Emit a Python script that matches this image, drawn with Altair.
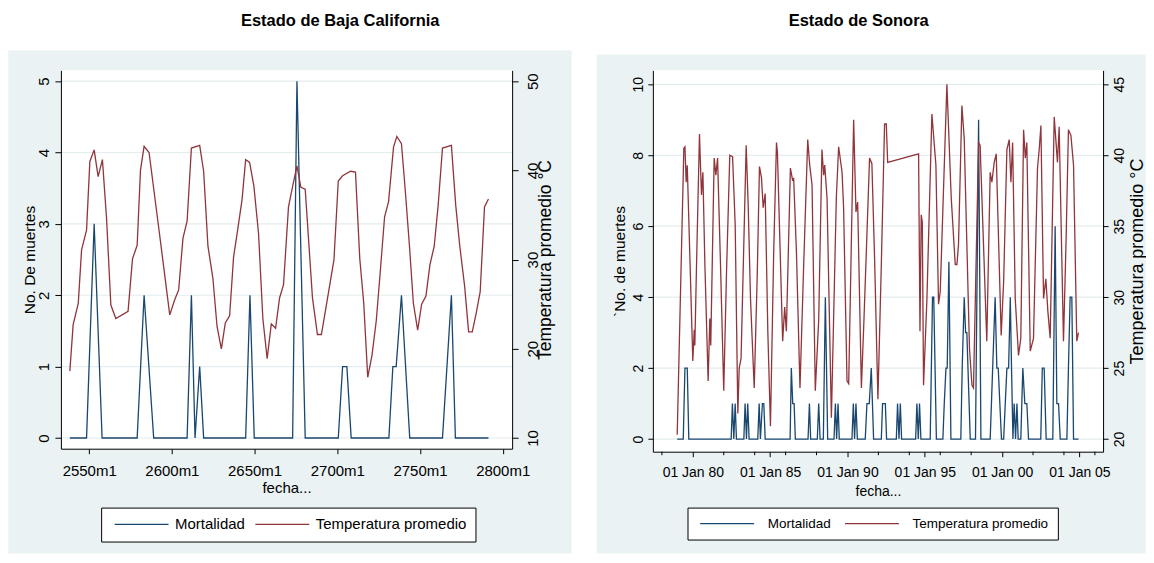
import altair as alt
import pandas as pd

# ---------------- data ----------------
SERIES = ["Mortalidad", "Temperatura promedio"]
TITLES = ["Estado de Baja California", "Estado de Sonora"]

# Baja California: x in Stata monthly units (labels "2550m1" ...)
BC_TEMP_X = [2538.3, 2540.3, 2543.4, 2545.4, 2548.4, 2550.4, 2553.0, 2555.4, 2558.0, 2560.5,
             2563.1, 2566.1, 2573.5, 2576.2, 2579.0, 2581.0, 2583.2, 2586.2, 2592.5, 2598.7,
             2601.7, 2604.1, 2606.7, 2609.2, 2611.8, 2616.8, 2619.2, 2621.8, 2624.8, 2627.3,
             2629.9, 2632.3, 2634.9, 2637.3, 2639.9, 2642.4, 2644.6, 2647.0, 2649.6, 2652.4,
             2655.0, 2657.6, 2660.1, 2662.7, 2665.1, 2667.5, 2670.5, 2673.0, 2675.6, 2678.0,
             2680.6, 2685.0, 2688.0, 2690.4, 2693.4, 2698.0, 2700.6, 2703.2, 2708.0, 2711.0,
             2713.6, 2716.0, 2718.4, 2721.0, 2723.6, 2726.0, 2728.6, 2731.0, 2734.0, 2736.0,
             2738.8, 2741.0, 2743.6, 2746.0, 2748.6, 2751.0, 2753.6, 2756.0, 2758.6, 2761.0,
             2763.6, 2769.0, 2771.6, 2774.0, 2777.0, 2779.4, 2781.6, 2784.0, 2786.4, 2789.0,
             2791.4]
BC_TEMP = [17.5, 22.7, 25.1, 31.1, 33.3, 41.0, 42.3, 39.3, 41.2, 34.6,
           24.9, 23.4, 24.2, 30.1, 31.6, 40.0, 42.7, 42.0, 32.9, 23.8,
           25.5, 26.6, 32.4, 34.3, 42.5, 42.8, 39.9, 31.5, 27.9, 22.5,
           20.0, 22.9, 23.7, 30.3, 33.5, 36.7, 41.2, 40.9, 38.2, 32.9,
           23.4, 18.9, 22.8, 22.3, 25.7, 27.2, 35.9, 38.2, 40.5, 38.1,
           37.9, 25.7, 21.6, 21.6, 24.9, 30.0, 38.8, 39.4, 39.9, 39.8,
           30.1, 25.1, 16.8, 19.3, 23.2, 28.7, 34.8, 36.5, 42.6, 43.8,
           43.0, 38.0, 31.6, 25.1, 22.1, 25.0, 25.9, 29.4, 31.5, 36.1,
           42.5, 42.8, 36.1, 31.6, 27.0, 21.9, 21.9, 24.0, 26.4, 35.9,
           36.8]
BC_MORT_X = [2538.3, 2548.4, 2553.0, 2557.8, 2579.0, 2583.2, 2589.0, 2609.2, 2611.8, 2614.0,
             2616.8, 2619.2, 2644.6, 2647.2, 2649.8, 2673.0, 2675.6, 2680.6, 2700.6, 2703.2,
             2705.8, 2708.4, 2731.2, 2733.6, 2735.6, 2738.8, 2743.8, 2763.6, 2769.0, 2771.4,
             2791.4]
BC_MORT = [0, 0, 3, 0, 0, 2, 0, 0, 2, 0,
           1, 0, 0, 2, 0, 0, 5, 0, 0, 1,
           1, 0, 0, 1, 1, 2, 0, 0, 2, 0,
           0]

# Sonora: x in decimal years
SON_TEMP_X = [1978.99, 1979.42, 1979.49, 1979.57, 1979.64, 1980.00, 1980.09, 1980.13, 1980.24, 1980.43,
              1980.56, 1980.65, 1980.78, 1980.99, 1981.10, 1981.16, 1981.38, 1981.49, 1981.60, 1981.79,
              1982.00, 1982.18, 1982.39, 1982.57, 1982.74, 1982.91, 1983.00, 1983.12, 1983.45, 1983.58,
              1983.73, 1983.97, 1984.16, 1984.31, 1984.44, 1984.55, 1984.68, 1984.85, 1985.02, 1985.23,
              1985.41, 1985.47, 1985.81, 1985.94, 1986.05, 1986.31, 1986.46, 1986.52, 1986.70, 1986.93,
              1987.17, 1987.43, 1987.56, 1987.71, 1987.92, 1988.14, 1988.35, 1988.46, 1988.53, 1988.68,
              1988.96, 1989.28, 1989.43, 1989.65, 1989.75, 1989.97, 1990.08, 1990.40, 1990.55, 1990.66,
              1990.90, 1991.07, 1991.43, 1991.58, 1991.76, 1991.97, 1992.19, 1992.40, 1992.51, 1992.60,
              1994.60, 1994.69, 1994.77, 1994.84, 1994.92, 1995.14, 1995.46, 1995.72, 1995.89, 1996.00,
              1996.43, 1996.71, 1996.97, 1997.08, 1997.18, 1997.40, 1997.55, 1997.89, 1998.05, 1998.15,
              1998.48, 1998.58, 1999.01, 1999.23, 1999.34, 1999.49, 1999.62, 1999.94, 2000.10, 2000.31,
              2000.46, 2000.57, 2000.68, 2000.85, 2001.06, 2001.21, 2001.39, 2001.50, 2001.60, 2001.82,
              2002.03, 2002.29, 2002.40, 2002.51, 2002.68, 2002.83, 2002.96, 2003.11, 2003.37, 2003.58,
              2003.69, 2003.97, 2004.14, 2004.29, 2004.45, 2004.62, 2004.83, 2004.94]
SON_TEMP = [20.3, 40.5, 40.6, 38.1, 39.3, 25.5, 27.7, 26.6, 32.3, 41.5,
            37.2, 38.8, 32.3, 24.1, 28.5, 26.6, 39.8, 38.6, 39.8, 32.3,
            23.4, 31.8, 40.0, 39.9, 35.1, 21.8, 25.0, 25.7, 40.7, 36.5,
            29.9, 23.6, 31.3, 39.2, 38.4, 36.3, 37.3, 27.6, 20.9, 33.2,
            40.9, 40.2, 26.9, 29.3, 27.6, 39.1, 38.2, 38.4, 33.2, 23.6,
            32.3, 41.1, 39.3, 37.9, 23.4, 28.4, 40.4, 38.6, 39.3, 37.0,
            21.5, 37.0, 40.6, 38.8, 36.3, 24.1, 23.9, 42.5, 36.0, 36.7,
            23.6, 28.5, 39.8, 39.4, 32.5, 22.8, 32.3, 42.2, 42.2, 39.5,
            40.1, 27.6, 35.8, 35.3, 23.8, 29.9, 42.9, 39.3, 29.5, 30.4,
            45.0, 37.0, 32.3, 32.3, 33.7, 43.5, 41.2, 26.4, 23.8, 23.6,
            40.9, 40.7, 26.9, 38.8, 38.1, 39.5, 40.1, 27.3, 31.1, 40.4,
            41.1, 38.1, 40.9, 29.9, 25.9, 27.1, 41.8, 39.8, 40.9, 26.2,
            27.1, 39.1, 40.4, 42.1, 29.9, 31.3, 29.0, 27.1, 42.7, 39.5,
            42.0, 26.9, 34.1, 41.8, 41.4, 39.3, 26.9, 27.5]
SON_MORT_X = [1978.99, 1979.38, 1979.49, 1979.64, 1979.74, 1982.48, 1982.56, 1982.65, 1982.74, 1982.82,
              1983.30, 1983.38, 1983.47, 1983.55, 1983.64, 1984.20, 1984.29, 1984.37, 1984.50, 1984.59,
              1984.68, 1986.29, 1986.37, 1986.46, 1986.55, 1986.63, 1987.45, 1987.54, 1987.62, 1988.05,
              1988.14, 1988.23, 1988.44, 1988.57, 1988.72, 1989.13, 1989.22, 1989.30, 1989.39, 1989.47,
              1990.29, 1990.38, 1990.46, 1990.55, 1990.64, 1991.15, 1991.26, 1991.41, 1991.54, 1991.69,
              1992.19, 1992.27, 1992.45, 1992.53, 1993.16, 1993.24, 1993.33, 1993.42, 1993.50, 1994.41,
              1994.49, 1994.58, 1994.66, 1994.75, 1995.35, 1995.50, 1995.58, 1995.75, 1996.17, 1996.26,
              1996.37, 1996.45, 1996.56, 1996.69, 1997.33, 1997.42, 1997.55, 1997.64, 1997.72, 1997.94,
              1998.28, 1998.48, 1998.63, 1999.23, 1999.55, 1999.66, 1999.75, 1999.96, 2000.10, 2000.31,
              2000.42, 2000.53, 2000.61, 2000.70, 2000.78, 2000.87, 2000.96, 2001.04, 2001.21, 2001.34,
              2001.47, 2001.60, 2001.71, 2002.50, 2002.60, 2002.72, 2002.85, 2003.28, 2003.43, 2003.54,
              2003.65, 2003.76, 2004.19, 2004.29, 2004.40, 2004.51, 2004.62, 2004.94]
SON_MORT = [0, 0, 2, 2, 0, 0, 1, 0, 1, 0,
            0, 1, 0, 1, 0, 0, 1, 0, 1, 1,
            0, 0, 2, 1, 1, 0, 0, 1, 0, 0,
            1, 0, 0, 4, 0, 0, 1, 0, 1, 0,
            0, 1, 0, 1, 0, 0, 1, 1, 2, 0,
            0, 1, 1, 0, 0, 1, 0, 1, 0, 0,
            1, 0, 1, 0, 0, 4, 4, 0, 0, 1,
            2, 2, 5, 0, 0, 2, 4, 3, 3, 0,
            0, 9, 0, 0, 4, 2, 2, 0, 0, 2,
            2, 4, 2, 0, 1, 0, 1, 0, 0, 2,
            1, 1, 0, 0, 2, 2, 0, 0, 6, 1,
            1, 0, 0, 2, 4, 4, 0, 0]

# axis ticks
BC_X_TICKS = [2550, 2600, 2650, 2700, 2750, 2800]
BC_MORT_TICKS = [0, 1, 2, 3, 4, 5]
BC_TEMP_TICKS = [10, 20, 30, 40, 50]
SON_X_TICKS = [1980, 1985, 1990, 1995, 2000, 2005]
SON_X_MINOR = [1978, 1982, 1984, 1986, 1988, 1992, 1994, 1996, 1998, 2002, 2004, 2006]
SON_MORT_TICKS = [0, 2, 4, 6, 8, 10]
SON_TEMP_TICKS = [20, 25, 30, 35, 40, 45]

# ---------------- style ----------------
FONT = "Liberation Sans"
BLUE = "#1a476f"
RED = "#90353b"
PANEL_BG = "#eaf2f3"
GRID = "#e3ecee"
# long horizontal legend key drawn as a custom path (scaled by sqrt(size)/2)
LEGEND_KEY = "M-1,0H17"


def panel(g):
    W, H = g["W"], g["H"]
    one = pd.DataFrame({"t": [g["title"]]})
    bg = alt.Chart(one).mark_rect(color=PANEL_BG).encode(
        x=alt.value(g["bg"][0]), x2=alt.value(g["bg"][1]),
        y=alt.value(g["bg"][2]), y2=alt.value(g["bg"][3]))
    plot_bg = alt.Chart(one).mark_rect(color="white").encode(
        x=alt.value(0), x2=alt.value(W), y=alt.value(0), y2=alt.value(H))
    ttl = alt.Chart(one).mark_text(font=FONT, fontSize=16.5, fontWeight="bold", color="black",
                                   align="center", baseline="middle").encode(
        text="t:N", x=alt.value(g["tx"]), y=alt.value(g["ty"]))

    xscale = alt.Scale(domain=g["xdom"], nice=False, zero=False)
    xaxis = alt.Axis(values=g["xticks"], labelExpr=g["xexpr"], title="fecha...",
                     tickSize=5, labelPadding=g["xlp"], labelFontSize=g["fs"],
                     titleFontSize=g["fs"], titleX=W / 2, titleY=44, titleAlign="center",
                     titleBaseline="alphabetic", zindex=1)
    X = alt.X("x:Q", scale=xscale, axis=xaxis)

    mscale = alt.Scale(domain=g["mdom"], nice=False, zero=False)
    tscale = alt.Scale(domain=g["tdom"], nice=False, zero=False)
    maxis = alt.Axis(values=g["mticks"], orient="left", title=g["mtitle"], labelAngle=270,
                     labelAlign="center", labelBaseline="bottom", labelPadding=g["mlp"],
                     tickSize=g["ts"], labelFontSize=g["fs"], titleFontSize=g["mtfs"],
                     titleAngle=270, titleAlign="center", titleBaseline="middle",
                     titleX=g["mtx"], titleY=H / 2, zindex=1)
    taxis = alt.Axis(values=g["tticks"], orient="right", title="Temperatura promedio °C",
                     labelAngle=270, labelAlign="center", labelBaseline="top",
                     labelPadding=g["tlp"], tickSize=g["ts"], labelFontSize=g["fs"],
                     titleFontSize=g["ttfs"], titleAngle=270, titleAlign="center",
                     titleBaseline="middle", titleX=g["ttx"], titleY=H / 2, zindex=1)

    grid = alt.Chart(pd.DataFrame({"g": g["mticks"]})).mark_rule(
        color=GRID, strokeWidth=1.2).encode(
        y=alt.Y("g:Q", scale=mscale, axis=None), x=alt.value(0), x2=alt.value(W))

    cscale = alt.Scale(domain=SERIES, range=[BLUE, RED])
    legend = alt.Legend(orient="none", legendX=g["lx"], legendY=g["ly"], direction="horizontal",
                        title=None, symbolType=LEGEND_KEY, symbolSize=36,
                        symbolStrokeWidth=1.3, labelFont=FONT, labelFontSize=g["lfs"],
                        labelColor="black", labelOffset=g["lo"], columnPadding=g["cp"],
                        padding=9, fillColor="white", strokeColor="black", labelLimit=400,
                        cornerRadius=0)
    mdf = pd.DataFrame({"x": g["mx"], "v": g["m"], "s": SERIES[0]})
    tdf = pd.DataFrame({"x": g["tx_"], "v": g["t"], "s": SERIES[1]})
    mline = alt.Chart(mdf).mark_line(strokeWidth=1.3).encode(
        x=X, y=alt.Y("v:Q", scale=mscale, axis=maxis),
        color=alt.Color("s:N", scale=cscale, legend=legend))
    tline = alt.Chart(tdf).mark_line(strokeWidth=1.3).encode(
        x=X, y=alt.Y("v:Q", scale=tscale, axis=taxis),
        color=alt.Color("s:N", scale=cscale, legend=legend))

    layers = [bg, plot_bg, ttl, grid]
    if g.get("minor"):
        minor = alt.Chart(pd.DataFrame({"x": g["minor"]})).mark_rule(color="black").encode(
            x=X, y=alt.value(H), y2=alt.value(H + 3.5))
        layers.append(minor)
    layers += [mline, tline]
    return alt.layer(*layers).resolve_scale(y="independent").properties(width=W, height=H)


left = panel(dict(
    title=TITLES[0], W=452, H=379, bg=(-52.7, 511.6, -20, 484), tx=279.8, ty=-49,
    xdom=[2532.9, 2805.7], xticks=BC_X_TICKS, xexpr="datum.value + 'm1'", xlp=10, fs=15,
    mdom=[-0.150, 5.151], tdom=[8.80, 51.21], mticks=BC_MORT_TICKS, tticks=BC_TEMP_TICKS,
    mtitle="No. De muertes", mlp=3.5, tlp=7, ts=6, mtfs=15.5, ttfs=17.5, mtx=-31, ttx=33,
    lx=40.3, ly=438, lfs=15, lo=50, cp=5,
    mx=BC_MORT_X, m=BC_MORT, tx_=BC_TEMP_X, t=BC_TEMP))

right = panel(dict(
    title=TITLES[1], W=451, H=382, bg=(-56.3, 493.7, -16, 484), tx=206.2, ty=-49,
    xdom=[1977.416, 2006.53], xticks=SON_X_TICKS,
    xexpr="'01 Jan ' + (datum.value % 100 < 10 ? '0' : '') + (datum.value % 100)",
    xlp=9, fs=14, minor=SON_X_MINOR,
    mdom=[-0.357, 10.394], tdom=[19.11, 45.98], mticks=SON_MORT_TICKS, tticks=SON_TEMP_TICKS,
    mtitle="`No. de muertes", mlp=2.5, tlp=4, ts=5, mtfs=15.5, ttfs=18, mtx=-33, ttx=34,
    lx=34.7, ly=438, lfs=13.5, lo=58, cp=10,
    mx=SON_MORT_X, m=SON_MORT, tx_=SON_TEMP_X, t=SON_TEMP))

chart = alt.hconcat(left, right, spacing=24).resolve_scale(
    color="independent", x="independent", y="independent"
).resolve_legend(color="independent").properties(
    padding={"left": 0, "top": 5, "right": 0, "bottom": 0}, background="white"
).configure_view(stroke=None).configure_axis(
    domainColor="black", tickColor="black", labelColor="black", titleColor="black",
    labelFont=FONT, titleFont=FONT, titleFontWeight="normal", grid=False,
    labelFlush=False, labelOverlap=False, domainWidth=1, tickWidth=1)

chart.save("out.html", embed_options={"renderer": "svg", "actions": False})
